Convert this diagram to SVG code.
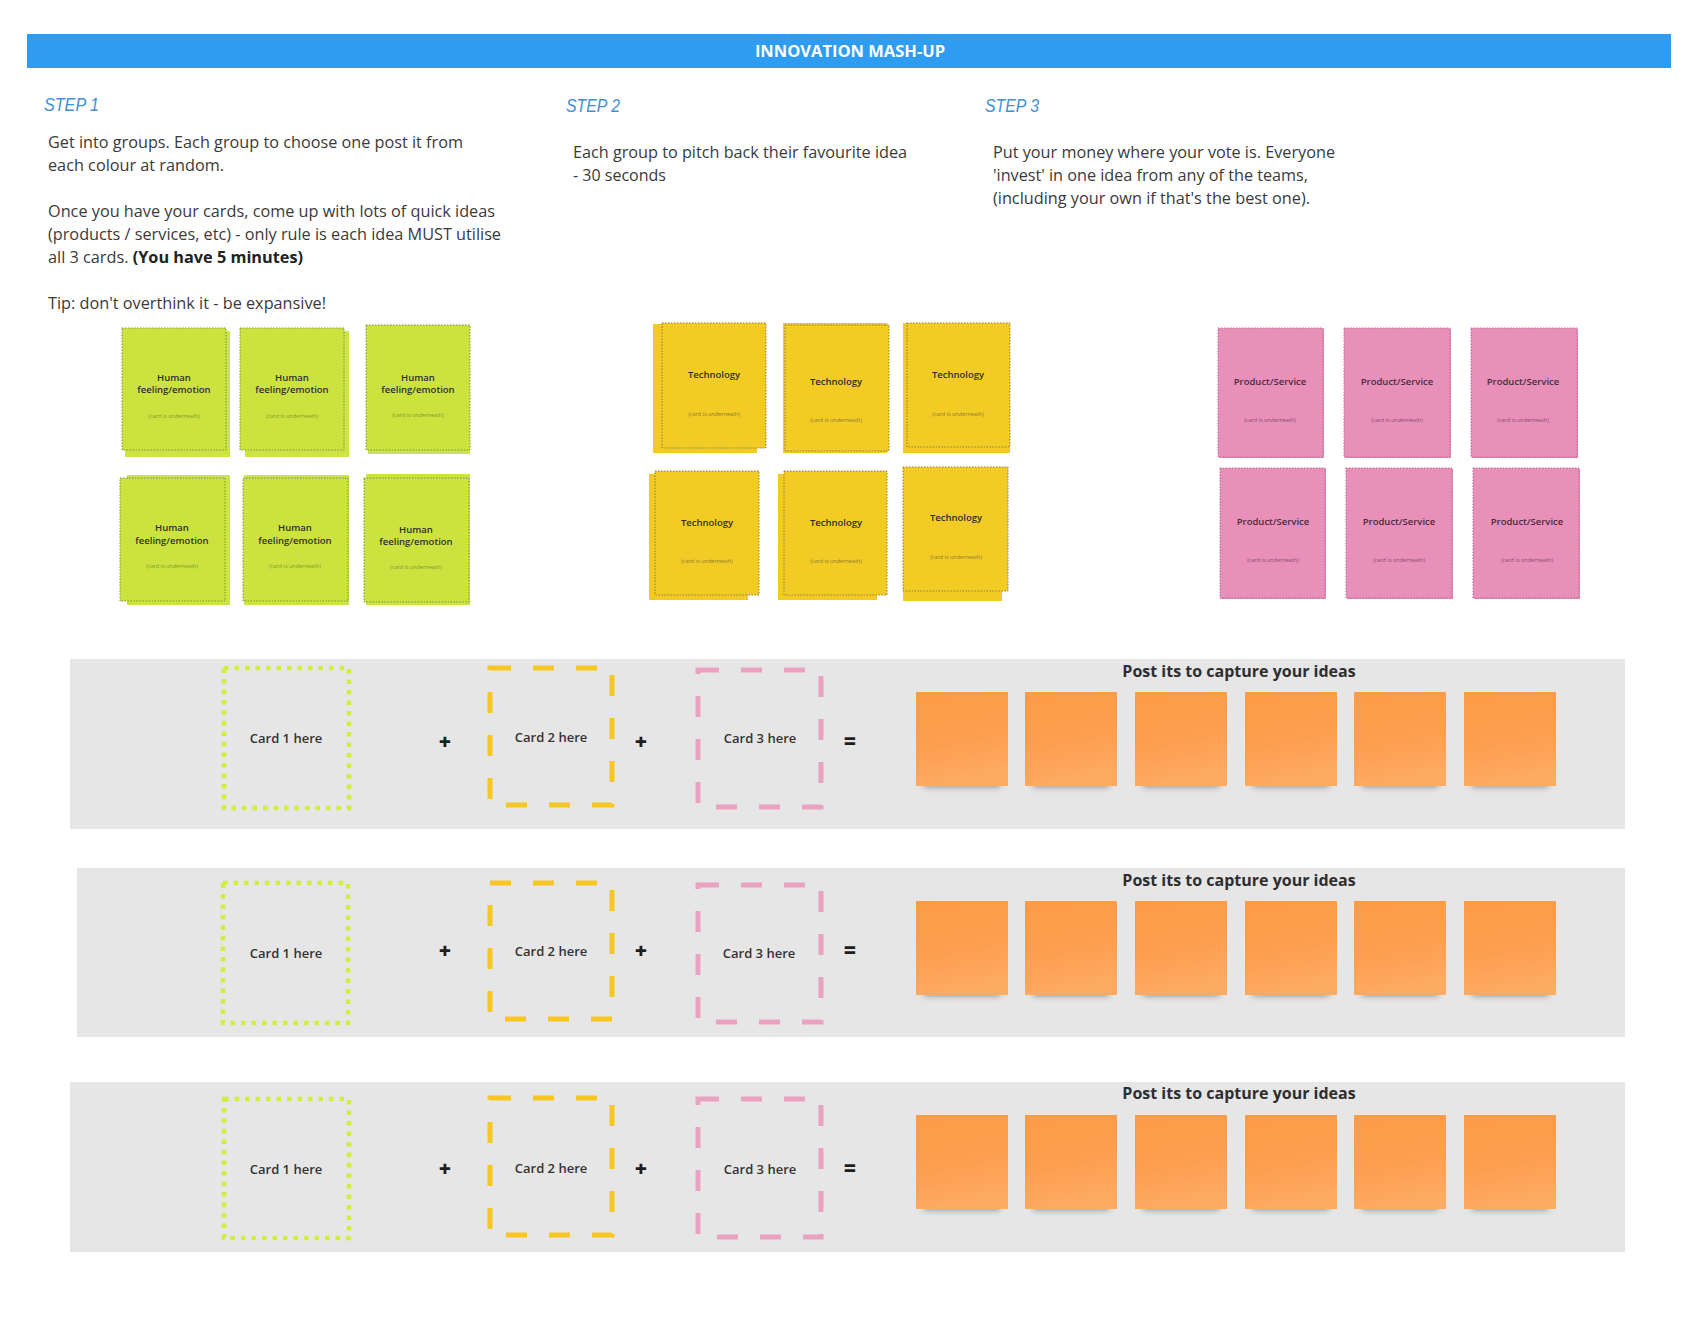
<svg xmlns="http://www.w3.org/2000/svg" width="1705" height="1319" viewBox="0 0 1705 1319">
<style>
.bg{fill:#ffffff}
.title{font-family:"Open Sans","Liberation Sans",sans-serif;font-weight:700;font-size:16.5px;fill:#ffffff}
.step{font-family:"Liberation Sans",sans-serif;font-style:italic;font-size:19px;fill:#3f8fd6}
.para{font-family:"Open Sans","Liberation Sans",sans-serif;font-size:16px;fill:#3a3a3a}
.b{font-weight:700;fill:#222}
.gback{fill:#cde544}
.gfront{fill:#cce33f;stroke:#7d8a55;stroke-width:1;stroke-dasharray:1.5 1.5}
.yback{fill:#f3ca24}
.yfront{fill:#f3cb25;stroke:#8c7d45;stroke-width:1;stroke-dasharray:1.5 1.5}
.pback{fill:#e58db5}
.pfront{fill:#e890b9;stroke:#b86b90;stroke-width:1;stroke-dasharray:1.5 1.5}
.ct{font-family:"Open Sans","Liberation Sans",sans-serif;font-weight:600;font-size:9.5px;fill:#2e2e2e;text-anchor:middle}
.cs{font-family:"Open Sans","Liberation Sans",sans-serif;font-size:5.5px;text-anchor:middle}
.gs{fill:#7d9a2a}
.ys{fill:#8c7a30}
.ps{fill:#8a4a6c}
.pt{fill:#4a2a3c}
.band{fill:#e6e6e6}
.slot1{fill:none;stroke:#d3ec3e;stroke-width:4.5;stroke-dasharray:4.5 6}
.slot2{fill:none;stroke:#f6c623;stroke-width:5;stroke-dasharray:21 22}
.slot3{fill:none;stroke:#eaa2c1;stroke-width:5;stroke-dasharray:21 22}
.lbl{font-family:"Open Sans","Liberation Sans",sans-serif;font-weight:600;font-size:13px;fill:#333;text-anchor:middle}
.op{font-family:"Open Sans","Liberation Sans",sans-serif;font-weight:800;font-size:21px;fill:#1e1e1e;text-anchor:middle}
.ph{font-family:"Open Sans","Liberation Sans",sans-serif;font-weight:700;font-size:16px;fill:#2e2e2e;text-anchor:middle}
.note{fill:url(#og)}
.shadow{fill:#4a4a4a;opacity:0.55;filter:url(#blur)}
</style>
<defs>
<linearGradient id="og" x1="0" y1="0" x2="0.2" y2="1">
<stop offset="0" stop-color="#fd9b47"/>
<stop offset="0.6" stop-color="#fd9f50"/>
<stop offset="1" stop-color="#fdaa62"/>
</linearGradient>
<filter id="blur" x="-20%" y="-100%" width="140%" height="300%">
<feGaussianBlur stdDeviation="3"/>
</filter>
<g id="postit">
<rect class="shadow" x="8" y="86" width="76" height="9"/>
<rect class="note" x="0" y="0" width="92" height="94"/>
</g>
</defs>
<rect class="bg" x="0" y="0" width="1705" height="1319"/>

<g id="header">
<rect x="27" y="34" width="1644" height="34" fill="#2e9cf0"/>
<text class="title" x="850" y="57" text-anchor="middle">INNOVATION MASH-UP</text>
</g>

<g id="step1">
<text class="step" x="44" y="111" textLength="55" lengthAdjust="spacingAndGlyphs">STEP 1</text>
<text class="para" x="48" y="148" textLength="415" lengthAdjust="spacingAndGlyphs">Get into groups. Each group to choose one post it from</text>
<text class="para" x="48" y="171" textLength="176" lengthAdjust="spacingAndGlyphs">each colour at random.</text>
<text class="para" x="48" y="217" textLength="447" lengthAdjust="spacingAndGlyphs">Once you have your cards, come up with lots of quick ideas</text>
<text class="para" x="48" y="240" textLength="453" lengthAdjust="spacingAndGlyphs">(products / services, etc) - only rule is each idea MUST utilise</text>
<text class="para" x="48" y="263" textLength="255" lengthAdjust="spacingAndGlyphs">all 3 cards. <tspan class="b">(You have 5 minutes)</tspan></text>
<text class="para" x="48" y="309" textLength="278" lengthAdjust="spacingAndGlyphs">Tip: don't overthink it - be expansive!</text>
</g>

<g id="step2">
<text class="step" x="566" y="112" textLength="54" lengthAdjust="spacingAndGlyphs">STEP 2</text>
<text class="para" x="573" y="158" textLength="334" lengthAdjust="spacingAndGlyphs">Each group to pitch back their favourite idea</text>
<text class="para" x="573" y="181" textLength="93" lengthAdjust="spacingAndGlyphs">- 30 seconds</text>
</g>

<g id="step3">
<text class="step" x="985" y="112" textLength="54" lengthAdjust="spacingAndGlyphs">STEP 3</text>
<text class="para" x="993" y="158" textLength="342" lengthAdjust="spacingAndGlyphs">Put your money where your vote is. Everyone</text>
<text class="para" x="993" y="181" textLength="315" lengthAdjust="spacingAndGlyphs">'invest' in one idea from any of the teams,</text>
<text class="para" x="993" y="204" textLength="317" lengthAdjust="spacingAndGlyphs">(including your own if that's the best one).</text>
</g>

<g id="green-cards">
<g id="g1"><rect class="gback" x="125" y="331" width="105" height="126"/><rect class="gfront" x="122" y="328" width="104" height="122"/>
<text class="ct" x="174" y="381">Human</text><text class="ct" x="174" y="393">feeling/emotion</text><text class="cs gs" x="174" y="418">(card is underneath)</text></g>
<g id="g2"><rect class="gback" x="245" y="331" width="104" height="126"/><rect class="gfront" x="240" y="328" width="104" height="122"/>
<text class="ct" x="292" y="381">Human</text><text class="ct" x="292" y="393">feeling/emotion</text><text class="cs gs" x="292" y="418">(card is underneath)</text></g>
<g id="g3"><rect class="gback" x="368" y="328" width="102" height="126"/><rect class="gfront" x="366" y="325" width="104" height="125"/>
<text class="ct" x="418" y="381">Human</text><text class="ct" x="418" y="393">feeling/emotion</text><text class="cs gs" x="418" y="417">(card is underneath)</text></g>
<g id="g4"><rect class="gback" x="127" y="475" width="103" height="130"/><rect class="gfront" x="120" y="478" width="105" height="123"/>
<text class="ct" x="172" y="531">Human</text><text class="ct" x="172" y="544">feeling/emotion</text><text class="cs gs" x="172" y="568">(card is underneath)</text></g>
<g id="g5"><rect class="gback" x="244" y="475" width="105" height="130"/><rect class="gfront" x="243" y="478" width="105" height="123"/>
<text class="ct" x="295" y="531">Human</text><text class="ct" x="295" y="544">feeling/emotion</text><text class="cs gs" x="295" y="568">(card is underneath)</text></g>
<g id="g6"><rect class="gback" x="366" y="474" width="104" height="131"/><rect class="gfront" x="364" y="478" width="105" height="124"/>
<text class="ct" x="416" y="533">Human</text><text class="ct" x="416" y="545">feeling/emotion</text><text class="cs gs" x="416" y="569">(card is underneath)</text></g>
</g>

<g id="yellow-cards">
<g id="y1"><rect class="yback" x="653" y="324" width="104" height="129"/><rect class="yfront" x="662" y="323" width="104" height="125"/>
<text class="ct" x="714" y="378">Technology</text><text class="cs ys" x="714" y="416">(card is underneath)</text></g>
<g id="y2"><rect class="yback" x="783" y="323" width="104" height="130"/><rect class="yfront" x="785" y="325" width="104" height="126"/>
<text class="ct" x="836" y="385">Technology</text><text class="cs ys" x="836" y="422">(card is underneath)</text></g>
<g id="y3"><rect class="yback" x="903" y="323" width="107" height="130"/><rect class="yfront" x="907" y="323" width="103" height="124"/>
<text class="ct" x="958" y="378">Technology</text><text class="cs ys" x="958" y="416">(card is underneath)</text></g>
<g id="y4"><rect class="yback" x="649" y="474" width="99" height="126"/><rect class="yfront" x="655" y="471" width="104" height="124"/>
<text class="ct" x="707" y="526">Technology</text><text class="cs ys" x="707" y="563">(card is underneath)</text></g>
<g id="y5"><rect class="yback" x="778" y="474" width="99" height="126"/><rect class="yfront" x="784" y="471" width="103" height="124"/>
<text class="ct" x="836" y="526">Technology</text><text class="cs ys" x="836" y="563">(card is underneath)</text></g>
<g id="y6"><rect class="yback" x="903" y="472" width="99" height="129"/><rect class="yfront" x="903" y="467" width="105" height="124"/>
<text class="ct" x="956" y="521">Technology</text><text class="cs ys" x="956" y="559">(card is underneath)</text></g>
</g>

<g id="pink-cards">
<g id="p1"><rect class="pback" x="1219" y="329" width="105" height="129"/><rect class="pfront" x="1218" y="328" width="105" height="129"/>
<text class="ct pt" x="1270" y="385">Product/Service</text><text class="cs ps" x="1270" y="422">(card is underneath)</text></g>
<g id="p2"><rect class="pback" x="1345" y="329" width="106" height="129"/><rect class="pfront" x="1344" y="328" width="106" height="129"/>
<text class="ct pt" x="1397" y="385">Product/Service</text><text class="cs ps" x="1397" y="422">(card is underneath)</text></g>
<g id="p3"><rect class="pback" x="1472" y="329" width="106" height="129"/><rect class="pfront" x="1471" y="328" width="106" height="129"/>
<text class="ct pt" x="1523" y="385">Product/Service</text><text class="cs ps" x="1523" y="422">(card is underneath)</text></g>
<g id="p4"><rect class="pback" x="1221" y="469" width="105" height="130"/><rect class="pfront" x="1220" y="468" width="105" height="130"/>
<text class="ct pt" x="1273" y="525">Product/Service</text><text class="cs ps" x="1273" y="562">(card is underneath)</text></g>
<g id="p5"><rect class="pback" x="1347" y="469" width="106" height="130"/><rect class="pfront" x="1346" y="468" width="106" height="130"/>
<text class="ct pt" x="1399" y="525">Product/Service</text><text class="cs ps" x="1399" y="562">(card is underneath)</text></g>
<g id="p6"><rect class="pback" x="1474" y="469" width="106" height="130"/><rect class="pfront" x="1473" y="468" width="106" height="130"/>
<text class="ct pt" x="1527" y="525">Product/Service</text><text class="cs ps" x="1527" y="562">(card is underneath)</text></g>
</g>

<g id="row1">
<rect class="band" x="70" y="659" width="1555" height="170"/>
<g id="r1-slot1"><rect class="slot1" x="224" y="668" width="125" height="140"/><text class="lbl" x="286" y="742.5">Card 1 here</text></g>
<text class="op" x="445" y="749">+</text>
<g id="r1-slot2"><rect class="slot2" x="490" y="668" width="122" height="137"/><text class="lbl" x="551" y="741.5">Card 2 here</text></g>
<text class="op" x="641" y="749">+</text>
<g id="r1-slot3"><rect class="slot3" x="698" y="670" width="123" height="137"/><text class="lbl" x="760" y="742.5">Card 3 here</text></g>
<text class="op" x="850" y="749">=</text>
<text class="ph" x="1239" y="677">Post its to capture your ideas</text>
<use id="r1-n1" href="#postit" x="916" y="692"/>
<use id="r1-n2" href="#postit" x="1025" y="692"/>
<use id="r1-n3" href="#postit" x="1135" y="692"/>
<use id="r1-n4" href="#postit" x="1245" y="692"/>
<use id="r1-n5" href="#postit" x="1354" y="692"/>
<use id="r1-n6" href="#postit" x="1464" y="692"/>
</g>

<g id="row2">
<rect class="band" x="77" y="868" width="1548" height="169"/>
<g id="r2-slot1"><rect class="slot1" x="223" y="883" width="125" height="140"/><text class="lbl" x="286" y="957.5">Card 1 here</text></g>
<text class="op" x="445" y="958">+</text>
<g id="r2-slot2"><rect class="slot2" x="490" y="883" width="122" height="136"/><text class="lbl" x="551" y="956">Card 2 here</text></g>
<text class="op" x="641" y="958">+</text>
<g id="r2-slot3"><rect class="slot3" x="698" y="885" width="123" height="137"/><text class="lbl" x="759" y="957.5">Card 3 here</text></g>
<text class="op" x="850" y="958">=</text>
<text class="ph" x="1239" y="885.5">Post its to capture your ideas</text>
<use id="r2-n1" href="#postit" x="916" y="901"/>
<use id="r2-n2" href="#postit" x="1025" y="901"/>
<use id="r2-n3" href="#postit" x="1135" y="901"/>
<use id="r2-n4" href="#postit" x="1245" y="901"/>
<use id="r2-n5" href="#postit" x="1354" y="901"/>
<use id="r2-n6" href="#postit" x="1464" y="901"/>
</g>

<g id="row3">
<rect class="band" x="70" y="1082" width="1555" height="170"/>
<g id="r3-slot1"><rect class="slot1" x="224" y="1099" width="125" height="139"/><text class="lbl" x="286" y="1173.5">Card 1 here</text></g>
<text class="op" x="445" y="1175.5">+</text>
<g id="r3-slot2"><rect class="slot2" x="490" y="1098" width="122" height="137"/><text class="lbl" x="551" y="1172.5">Card 2 here</text></g>
<text class="op" x="641" y="1175.5">+</text>
<g id="r3-slot3"><rect class="slot3" x="698" y="1099" width="123" height="138"/><text class="lbl" x="760" y="1173.5">Card 3 here</text></g>
<text class="op" x="850" y="1175.5">=</text>
<text class="ph" x="1239" y="1098.5">Post its to capture your ideas</text>
<use id="r3-n1" href="#postit" x="916" y="1115"/>
<use id="r3-n2" href="#postit" x="1025" y="1115"/>
<use id="r3-n3" href="#postit" x="1135" y="1115"/>
<use id="r3-n4" href="#postit" x="1245" y="1115"/>
<use id="r3-n5" href="#postit" x="1354" y="1115"/>
<use id="r3-n6" href="#postit" x="1464" y="1115"/>
</g>

<g id="connectors"></g>
</svg>
